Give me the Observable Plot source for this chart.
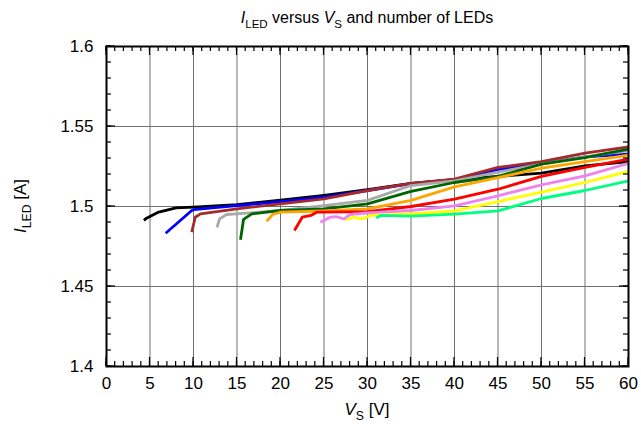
<!DOCTYPE html>
<html>
<head>
<meta charset="utf-8">
<script src="https://cdn.jsdelivr.net/npm/d3@7"></script>
<script src="https://cdn.jsdelivr.net/npm/@observablehq/plot@0.6"></script>
<style>
  html, body { margin: 0; padding: 0; background: #fff; }
  #chart { width: 641px; height: 428px; }
</style>
</head>
<body>
<div id="chart"></div>
<script>
// number of LEDs per series and line colours
const leds = [1, 2, 3, 4, 5, 6, 7, 8, 9, 10];
const colors = ["#000000", "#0000ff", "#a52a2a", "#a9a9a9", "#006400", "#ffa500", "#ff0000", "#ee82ee", "#ffff00", "#00ff7f"];

// supply voltage V_S [V] and LED current I_LED [A] per series
const vs1 = [4.3, 4.6, 6, 8, 10, 15, 20, 25, 30, 35, 40, 45, 50, 55, 60];
const il1 = [1.4913, 1.4927, 1.4965, 1.4992, 1.4996, 1.5012, 1.5040, 1.5070, 1.5105, 1.5145, 1.5168, 1.5188, 1.5208, 1.5254, 1.5281];
const vs2 = [6.8, 9.8, 10, 15, 20, 25, 30, 35, 40, 45, 50, 55, 60];
const il2 = [1.4833, 1.4975, 1.4980, 1.5006, 1.5030, 1.5058, 1.5100, 1.5143, 1.5168, 1.5230, 1.5270, 1.5310, 1.5327];
const vs3 = [9.8, 10.2, 10.8, 15, 20, 25, 30, 35, 40, 45, 50, 55, 60];
const il3 = [1.4840, 1.4933, 1.4954, 1.4985, 1.5017, 1.5048, 1.5100, 1.5145, 1.5171, 1.5244, 1.5280, 1.5333, 1.5373];
const vs4 = [12.7, 13.0, 13.8, 15, 20, 25, 30, 35, 40, 45, 50, 55, 60];
const il4 = [1.4870, 1.4923, 1.4950, 1.4954, 1.4975, 1.5006, 1.5038, 1.5131, 1.5160, 1.5215, 1.5265, 1.5310, 1.5350];
const vs5 = [15.4, 15.75, 16.7, 20, 25, 30, 35, 40, 45, 50, 55, 60];
const il5 = [1.4792, 1.4919, 1.4954, 1.4975, 1.4985, 1.5017, 1.5095, 1.5150, 1.5188, 1.5265, 1.5306, 1.5358];
const vs6 = [18.4, 19.1, 20, 25, 30, 35, 40, 45, 50, 55, 60];
const il6 = [1.4908, 1.4950, 1.4965, 1.4972, 1.4985, 1.5038, 1.5123, 1.5180, 1.5240, 1.5280, 1.5321];
const vs7 = [21.6, 22.5, 23.5, 24.2, 25, 30, 35, 40, 45, 50, 55, 60];
const il7 = [1.4850, 1.4933, 1.4944, 1.4965, 1.4965, 1.4968, 1.5000, 1.5046, 1.5108, 1.5188, 1.5244, 1.5296];
const vs8 = [24.6, 25.7, 26.5, 27.3, 28, 30, 35, 40, 45, 50, 55, 60];
const il8 = [1.4902, 1.4933, 1.4936, 1.4922, 1.4950, 1.4960, 1.4975, 1.5004, 1.5067, 1.5135, 1.5192, 1.5269];
const vs9 = [27.6, 28.4, 29.5, 30.3, 35, 40, 45, 50, 55, 60];
const il9 = [1.4917, 1.4933, 1.4923, 1.4944, 1.4954, 1.4973, 1.5031, 1.5090, 1.5150, 1.5219];
const vs10 = [31.0, 31.5, 35, 40, 45, 50, 55, 60];
const il10 = [1.4927, 1.4944, 1.4940, 1.4952, 1.4973, 1.5050, 1.5100, 1.5160];

// axis ticks
const xTicks = [0, 5, 10, 15, 20, 25, 30, 35, 40, 45, 50, 55, 60];
const xMinor = d3.range(0, 61, 1);
const yTicks = [1.4, 1.45, 1.5, 1.55, 1.6];
const yMinor = d3.range(0, 21).map(i => +(1.4 + i * 0.01).toFixed(2));

const allV = [vs1, vs2, vs3, vs4, vs5, vs6, vs7, vs8, vs9, vs10];
const allI = [il1, il2, il3, il4, il5, il6, il7, il8, il9, il10];
const rows = [];
leds.forEach((n, k) => allV[k].forEach((v, j) => rows.push({n, V: v, I: allI[k][j]})));

const W = 641, H = 428, mL = 106, mR = 13, mT = 46, mB = 62;

const plot = Plot.plot({
  width: W,
  height: H,
  marginLeft: mL,
  marginRight: mR,
  marginTop: mT,
  marginBottom: mB,
  style: {fontFamily: "'Liberation Sans', Arial, sans-serif", fontSize: "17px", color: "#000", background: "#fff"},
  x: {domain: [0, 60]},
  y: {domain: [1.4, 1.6]},
  color: {domain: leds, range: colors},
  marks: [
    Plot.gridX(xTicks, {stroke: "#707070", strokeOpacity: 1, strokeWidth: 1}),
    Plot.gridY(yTicks, {stroke: "#707070", strokeOpacity: 1, strokeWidth: 1}),
    Plot.axisX({ticks: xTicks, tickSize: 0, tickPadding: 10, label: null, tickFormat: d => String(d)}),
    Plot.axisY({ticks: yTicks, tickSize: 0, tickPadding: 13, label: null, tickFormat: d => String(d)}),
    Plot.line(rows, {x: "V", y: "I", z: "n", stroke: "n", strokeWidth: 2.8, strokeLinejoin: "round", strokeLinecap: "butt"}),
    Plot.frame({stroke: "#000", strokeWidth: 2})
  ]
});
document.getElementById("chart").appendChild(plot);

const svg = d3.select(plot);

// inward ticks on all four sides, positioned with the plot's own scales
const sx = plot.scale("x"), sy = plot.scale("y");
const x0 = mL, x1 = W - mR, y0 = mT, y1 = H - mB;
const tg = svg.append("g").attr("stroke", "#000").attr("stroke-width", 1.2);
function xTick(v, len) {
  const px = sx.apply(v);
  tg.append("line").attr("x1", px).attr("x2", px).attr("y1", y1).attr("y2", y1 - len);
  tg.append("line").attr("x1", px).attr("x2", px).attr("y1", y0).attr("y2", y0 + len);
}
function yTick(v, len) {
  const py = sy.apply(v);
  tg.append("line").attr("y1", py).attr("y2", py).attr("x1", x0).attr("x2", x0 + len);
  tg.append("line").attr("y1", py).attr("y2", py).attr("x1", x1).attr("x2", x1 - len);
}
xMinor.forEach(v => xTick(v, 5));
xTicks.forEach(v => xTick(v, 9));
yMinor.forEach(v => yTick(v, 5));
yTicks.forEach(v => yTick(v, 9));

// title and axis labels with italic symbols and subscripts
const font = "'Liberation Sans', Arial, sans-serif";
function richText(sel, parts, size) {
  parts.forEach(p => {
    const t = sel.append("tspan").text(p.t);
    if (p.i) t.attr("font-style", "italic");
    if (p.sub) t.attr("font-size", size * 0.72).attr("dy", size * 0.3);
    if (p.up) t.attr("dy", -size * 0.3);
  });
}
const title = svg.append("text").attr("x", 367).attr("y", 23).attr("text-anchor", "middle")
  .attr("font-family", font).attr("font-size", 16).attr("fill", "#000");
richText(title, [{t: "I", i: true}, {t: "LED", sub: true}, {t: " versus ", up: true}, {t: "V", i: true}, {t: "S", sub: true}, {t: " and number of LEDs", up: true}], 16);

const xl = svg.append("text").attr("x", 367).attr("y", 415).attr("text-anchor", "middle")
  .attr("font-family", font).attr("font-size", 17).attr("fill", "#000");
richText(xl, [{t: "V", i: true}, {t: "S", sub: true}, {t: " [V]", up: true}], 17);

const yl = svg.append("text").attr("transform", "translate(26,206) rotate(-90)").attr("text-anchor", "middle")
  .attr("font-family", font).attr("font-size", 17).attr("fill", "#000");
richText(yl, [{t: "I", i: true}, {t: "LED", sub: true}, {t: " [A]", up: true}], 17);
</script>
</body>
</html>
